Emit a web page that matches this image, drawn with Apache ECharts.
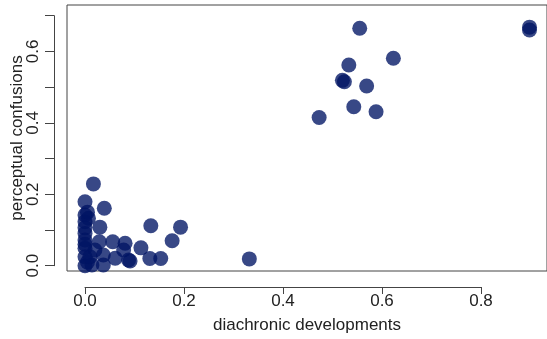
<!DOCTYPE html>
<html>
<head>
  <meta charset="utf-8">
  <title>ECharts</title>
  <script src="https://cdn.jsdelivr.net/npm/echarts@6/dist/echarts.min.js"></script>
  <style>
  html, body { margin: 0; padding: 0; background: #fff; }
  #main {
    width: 547px;
    height: 339px;
  }
  </style>
</head>
<body>
  <div id="main"></div>
  <script type="text/javascript">
  // values
  var diachronic = [0.555, 0.623, 0.533, 0.520, 0.524, 0.569, 0.543, 0.588, 0.473, 0.898, 0.898,
    0.332, 0.133, 0.193, 0.176, 0.113, 0.131, 0.153, 0.091,
    0.017, 0.000, 0.039, 0.000, 0.007, 0.000, 0.030, 0.000, 0.000, 0.000, 0.029, 0.056, 0.081,
    0.000, 0.020, 0.078, 0.000, 0.037, 0.061, 0.088, 0.000, 0.014, 0.037, 0.005, 0.010, 0.000, 0.005];
  var perceptual = [0.665, 0.581, 0.562, 0.519, 0.515, 0.503, 0.445, 0.431, 0.415, 0.668, 0.660,
    0.019, 0.112, 0.108, 0.070, 0.050, 0.020, 0.020, 0.013,
    0.229, 0.179, 0.161, 0.142, 0.133, 0.123, 0.108, 0.106, 0.090, 0.072, 0.067, 0.067, 0.063,
    0.049, 0.044, 0.044, 0.025, 0.030, 0.021, 0.016, 0.000, 0.002, 0.002, 0.010, 0.025, 0.060, 0.150];
  var xTicks = { min: 0, max: 0.8, step: 0.2 };
  var yTicks = { min: 0, max: 0.7, step: 0.1 };

  var points = diachronic.map(function (x, i) { return [x, perceptual[i]]; });

  var textColor = '#222';
  var lineColor = '#444';
  var font = 'Liberation Sans, Arial, sans-serif';

  var myChart = echarts.init(document.getElementById('main'));
  var option = {
    animation: false,
    grid: [
      // the plot box (runs off the right edge like the original)
      { left: 67, top: 5, width: 481, height: 271, show: true, borderColor: lineColor, borderWidth: 1 },
      // R-style detached axes, 0..0.8 and 0..0.7
      { left: 85, top: 15.7, width: 396, height: 250 }
    ],
    xAxis: [{
      gridIndex: 0, type: 'value', min: 0, max: 1,
      splitLine: { show: false }, axisLine: { show: false }, axisTick: { show: false }, axisLabel: { show: false },
      name: 'diachronic developments', nameLocation: 'middle', nameGap: 46,
      nameTextStyle: { color: textColor, fontSize: 17, fontFamily: font }
    }, {
      gridIndex: 1, type: 'value', position: 'bottom', offset: 21.3,
      min: xTicks.min, max: xTicks.max, interval: xTicks.step,
      splitLine: { show: false },
      axisLine: { onZero: false, lineStyle: { color: lineColor, width: 1 } },
      axisTick: { length: 7, lineStyle: { color: lineColor } },
      axisLabel: { margin: 6, color: textColor, fontSize: 17, fontFamily: font,
        formatter: function (v) { return v.toFixed(1); } }
    }],
    yAxis: [{
      gridIndex: 0, type: 'value', min: 0, max: 1,
      splitLine: { show: false }, axisLine: { show: false }, axisTick: { show: false }, axisLabel: { show: false },
      name: 'perceptual confusions', nameLocation: 'middle', nameGap: 41, nameRotate: 90,
      nameTextStyle: { color: textColor, fontSize: 17, fontFamily: font }
    }, {
      gridIndex: 1, type: 'value', position: 'left', offset: 31,
      min: yTicks.min, max: yTicks.max, interval: yTicks.step,
      splitLine: { show: false },
      axisLine: { show: true, onZero: false, lineStyle: { color: lineColor, width: 1 } },
      axisTick: { show: true, length: 9, lineStyle: { color: lineColor } },
      axisLabel: { margin: 12, rotate: 90, color: textColor, fontSize: 17, fontFamily: font,
        hideOverlap: false,
        formatter: function (v) { return Math.round(v * 10) % 2 === 0 ? v.toFixed(1) : ''; } }
    }],
    series: [{
      type: 'scatter',
      xAxisIndex: 1,
      yAxisIndex: 1,
      clip: false,
      symbolSize: 15,
      itemStyle: { color: 'rgb(0,20,100)', opacity: 0.78 },
      data: points
    }]
  };
  myChart.setOption(option);
  </script>
</body>
</html>
